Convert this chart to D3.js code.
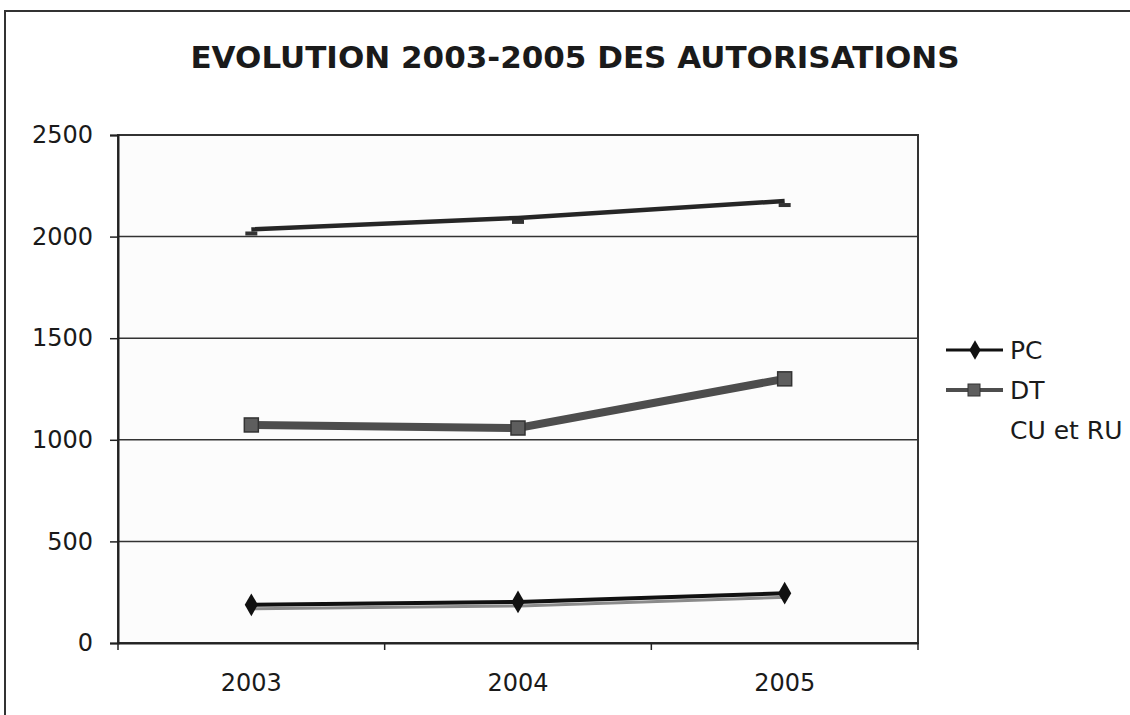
<!DOCTYPE html>
<html lang="fr">
<head>
<meta charset="UTF-8">
<title>Evolution 2003-2005 des autorisations</title>
<script src="https://d3js.org/d3.v7.min.js"></script>
<style>
  body, html { margin: 0; padding: 0; background: #fff; }
  svg text { font-family: "DejaVu Sans", Verdana, sans-serif; fill: #1a1a1a; }
</style>
</head>
<body>
<div id="chart"></div>
<script>
// data
var years = ["2003", "2004", "2005"];
var pcValues = [188, 202, 245];
var dtValues = [1073, 1058, 1300];
var curuValues = [2035, 2092, 2175];
var yTicks = [0, 500, 1000, 1500, 2000, 2500];
var seriesNames = ["PC", "DT", "CU et RU"];

var W = 1130, H = 715;
var margin = {top: 135, right: 212, bottom: 72, left: 118};
var width = W - margin.left - margin.right,
    height = H - margin.top - margin.bottom;

var svg = d3.select("#chart").append("svg")
    .attr("width", W)
    .attr("height", H);

// outer chart frame (left and top edges visible on the scan)
svg.append("path")
    .attr("d", "M5," + H + "V11H" + W)
    .attr("fill", "none")
    .attr("stroke", "#333")
    .attr("stroke-width", 2);

svg.append("text")
    .attr("x", 575)
    .attr("y", 68)
    .attr("text-anchor", "middle")
    .style("font-size", "31px")
    .style("font-weight", "bold")
    .text("EVOLUTION 2003-2005 DES AUTORISATIONS");

var g = svg.append("g")
    .attr("transform", "translate(" + margin.left + "," + margin.top + ")");

var x = d3.scaleBand().domain(years).range([0, width]);
var y = d3.scaleLinear().domain([0, 2500]).range([height, 0]);

// plot area
g.append("rect")
    .attr("width", width)
    .attr("height", height)
    .attr("fill", "#fcfcfc")
    .attr("stroke", "#333")
    .attr("stroke-width", 2);

// gridlines
g.selectAll(".grid")
    .data(yTicks.slice(1))
  .enter().append("line")
    .attr("class", "grid")
    .attr("x1", 0)
    .attr("x2", width)
    .attr("y1", function(d) { return y(d); })
    .attr("y2", function(d) { return y(d); })
    .attr("stroke", "#333")
    .attr("stroke-width", 1.5);

// y axis
var yAxis = g.append("g")
    .call(d3.axisLeft(y).tickValues(yTicks).tickSize(8).tickPadding(17).tickFormat(d3.format("d")));
yAxis.select(".domain").attr("stroke", "#222").attr("stroke-width", 2);
yAxis.selectAll(".tick line").attr("stroke", "#222").attr("stroke-width", 1.5);
yAxis.selectAll("text").style("font-size", "24px").attr("fill", "#1a1a1a");

// x axis, ticks sit between categories
var xAxis = g.append("g")
    .attr("transform", "translate(0," + height + ")")
    .call(d3.axisBottom(x).tickSize(0).tickPadding(31));
xAxis.select(".domain").attr("stroke", "#222").attr("stroke-width", 2);
xAxis.selectAll("text").style("font-size", "24px").attr("fill", "#1a1a1a");
g.append("g")
    .selectAll("line")
    .data(years.concat(["end"]))
  .enter().append("line")
    .attr("x1", function(d, i) { return i * x.step(); })
    .attr("x2", function(d, i) { return i * x.step(); })
    .attr("y1", height)
    .attr("y2", height + 7)
    .attr("stroke", "#222")
    .attr("stroke-width", 1.5);

var cx = function(d, i) { return x(years[i]) + x.bandwidth() / 2; };
var line = d3.line()
    .x(cx)
    .y(function(d) { return y(d); });

// CU et RU
g.append("path")
    .datum(curuValues)
    .attr("d", line)
    .attr("fill", "none")
    .attr("stroke", "#262626")
    .attr("stroke-width", 4.5);
g.selectAll(".curu")
    .data(curuValues)
  .enter().append("rect")
    .attr("class", "curu")
    .attr("x", function(d, i) { return cx(d, i) - 6; })
    .attr("y", function(d) { return y(d) + 2; })
    .attr("width", 12)
    .attr("height", 4)
    .attr("fill", "#333");

// DT
g.append("path")
    .datum(dtValues)
    .attr("d", line)
    .attr("fill", "none")
    .attr("stroke", "#4d4d4d")
    .attr("stroke-width", 8);
g.selectAll(".dt")
    .data(dtValues)
  .enter().append("rect")
    .attr("class", "dt")
    .attr("x", function(d, i) { return cx(d, i) - 7; })
    .attr("y", function(d) { return y(d) - 7; })
    .attr("width", 14)
    .attr("height", 14)
    .attr("fill", "#5e5e5e")
    .attr("stroke", "#333")
    .attr("stroke-width", 1.5);

// PC, with the grey shadow line from the scan
var diamond = d3.symbol().type(d3.symbolDiamond).size(150);
g.append("path")
    .datum(pcValues)
    .attr("d", line)
    .attr("transform", "translate(2,4)")
    .attr("fill", "none")
    .attr("stroke", "#8a8a8a")
    .attr("stroke-width", 3);
g.append("path")
    .datum(pcValues)
    .attr("d", line)
    .attr("fill", "none")
    .attr("stroke", "#111")
    .attr("stroke-width", 4);
g.selectAll(".pc")
    .data(pcValues)
  .enter().append("path")
    .attr("class", "pc")
    .attr("transform", function(d, i) { return "translate(" + cx(d, i) + "," + y(d) + ")"; })
    .attr("d", diamond)
    .attr("fill", "#111");

// legend
var legend = svg.append("g").attr("transform", "translate(946,350)");
seriesNames.forEach(function(name, i) {
    var row = legend.append("g").attr("transform", "translate(0," + (i * 40) + ")");
    if (name === "PC") {
        row.append("line").attr("x1", 0).attr("x2", 57).attr("stroke", "#111").attr("stroke-width", 3);
        row.append("path").attr("transform", "translate(29,0)")
            .attr("d", d3.symbol().type(d3.symbolDiamond).size(110)).attr("fill", "#111");
    } else if (name === "DT") {
        row.append("line").attr("x1", 0).attr("x2", 57).attr("stroke", "#4d4d4d").attr("stroke-width", 4);
        row.append("rect").attr("x", 22).attr("y", -6).attr("width", 12).attr("height", 12)
            .attr("fill", "#5e5e5e").attr("stroke", "#333");
    }
    row.append("text")
        .attr("x", 64)
        .attr("y", 9)
        .style("font-size", "25px")
        .text(name);
});
</script>
</body>
</html>
